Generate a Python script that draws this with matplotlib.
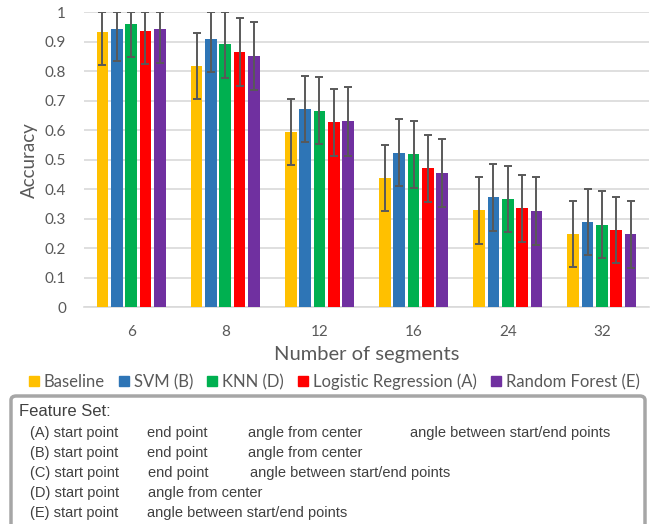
import numpy as np
import matplotlib.pyplot as plt
from matplotlib.patches import FancyBboxPatch
from matplotlib.lines import Line2D

# data
segments = ["6", "8", "12", "16", "24", "32"]
models = ["Baseline", "SVM (B)", "KNN (D)", "Logistic Regression (A)", "Random Forest (E)"]
baseline = [0.933, 0.817, 0.593, 0.437, 0.328, 0.248]
baseline_err = [0.111, 0.111, 0.112, 0.112, 0.112, 0.111]
svm = [0.943, 0.907, 0.672, 0.524, 0.372, 0.289]
svm_err = [0.109, 0.110, 0.111, 0.113, 0.112, 0.112]
knn = [0.959, 0.892, 0.666, 0.518, 0.368, 0.280]
knn_err = [0.111, 0.114, 0.113, 0.113, 0.112, 0.113]
logreg = [0.936, 0.865, 0.627, 0.471, 0.335, 0.262]
logreg_err = [0.112, 0.114, 0.113, 0.113, 0.113, 0.112]
forest = [0.941, 0.851, 0.630, 0.455, 0.326, 0.247]
forest_err = [0.114, 0.115, 0.116, 0.115, 0.115, 0.114]

feature_rows = [
    ["(A) start point", "end point", "angle from center", "angle between start/end points"],
    ["(B) start point", "end point", "angle from center"],
    ["(C) start point", "end point", "angle between start/end points"],
    ["(D) start point", "angle from center"],
    ["(E) start point", "angle between start/end points"],
]

colors = ["#FFC000", "#2E75B6", "#00B050", "#FF0000", "#7030A0"]
series = [baseline, svm, knn, logreg, forest]
errors = [baseline_err, svm_err, knn_err, logreg_err, forest_err]

W, H = 665, 524
fig = plt.figure(figsize=(W / 100, H / 100), dpi=100)
ax = fig.add_axes([84 / W, 1 - 307.3 / H, (649 - 84) / W, (307.3 - 12) / H])

font = "Lato"
grey = "#595959"

x = np.arange(len(segments))
step = 0.152
width = 0.124
for i, (vals, errs, col) in enumerate(zip(series, errors, colors)):
    vals = np.array(vals)
    errs = np.array(errs)
    # error bars stop at the top of the axis
    upper = np.minimum(vals + errs, 1.0) - vals
    ax.bar(x + (i - 2) * step, vals, width, color=col, zorder=3)
    ax.errorbar(
        x + (i - 2) * step,
        vals,
        yerr=[errs, upper],
        fmt="none",
        ecolor="#595959",
        elinewidth=1.4,
        capsize=3,
        capthick=1.4,
        zorder=4,
    )

ax.set_xlim(-0.5, len(segments) - 0.5)
ax.set_ylim(0, 1.0)
ax.set_yticks(np.linspace(0, 1, 11), ["0", "0.1", "0.2", "0.3", "0.4", "0.5", "0.6", "0.7", "0.8", "0.9", "1"])
ax.set_xticks(x, segments)
ax.grid(visible=True, axis="y", color="#d9d9d9", linewidth=1.2, zorder=0)
ax.set_axisbelow(True)
for s in ["top", "right", "left"]:
    ax.spines[s].set_visible(False)
ax.spines["bottom"].set_color("#d9d9d9")
ax.spines["bottom"].set_linewidth(1.2)
ax.tick_params(length=0, labelcolor=grey, labelsize=11)
ax.tick_params(axis="y", pad=13)
ax.tick_params(axis="x", pad=13)
for lab in ax.get_xticklabels() + ax.get_yticklabels():
    lab.set_family(font)
ax.set_ylabel("Accuracy", fontsize=13.5, color=grey, family=font, labelpad=5)
ax.set_xlabel("Number of segments", fontsize=14.5, color=grey, family=font, labelpad=5)

handles = [
    Line2D([], [], marker="s", linestyle="none", markersize=7, color=c) for c in colors
]
fig.legend(
    handles,
    models,
    loc="center",
    bbox_to_anchor=(0.503, 1 - 382 / H),
    ncol=5,
    frameon=False,
    handlelength=0.6,
    handletextpad=0.3,
    columnspacing=0.85,
    prop={"family": font, "size": 12},
    labelcolor=grey,
)

# feature set box
box = FancyBboxPatch(
    (11 / W, -0.05),
    (645 - 11) / W,
    1 - 396 / H + 0.05,
    boxstyle="round,pad=0,rounding_size=0.008",
    transform=fig.transFigure,
    facecolor="none",
    edgecolor="#a6a6a6",
    linewidth=2.5,
)
fig.patches.append(box)

txt_col = "#404040"
fig.text(19 / W, 1 - 411 / H, "Feature Set:", fontsize=12, family="Liberation Sans",
         color=txt_col, va="center")
col_x = {
    0: [30, 147, 248, 410],
    1: [30, 147, 248],
    2: [30, 148, 250],
    3: [30, 148],
    4: [30, 147],
}
row_y = [433, 453, 473, 493, 513]
for r, row in enumerate(feature_rows):
    for c, t in enumerate(row):
        fig.text(col_x[r][c] / W, 1 - row_y[r] / H, t, fontsize=10.5,
                 family="Liberation Sans", color=txt_col, va="center")

fig.savefig("out.png", dpi=100)
